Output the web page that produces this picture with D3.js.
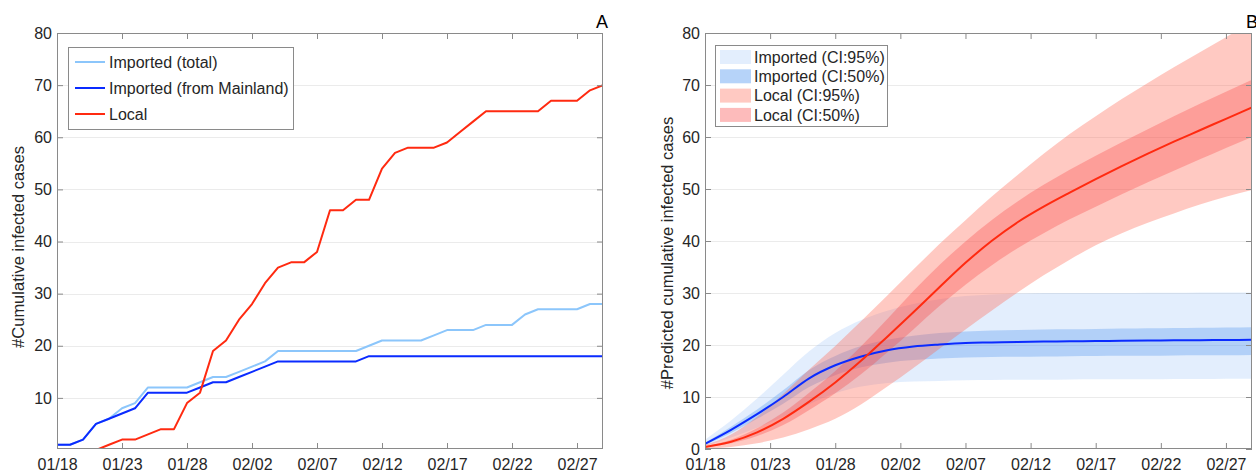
<!DOCTYPE html>
<html>
<head>
<meta charset="utf-8">
<script src="https://cdn.jsdelivr.net/npm/d3@7"></script>
<style>
  html, body { margin: 0; padding: 0; background: #fff; }
  svg { display: block; font-family: "Liberation Sans", Arial, Helvetica, sans-serif; }
</style>
</head>
<body>
<svg id="chart" width="1256" height="472"></svg>
<script>
// ---- Observed data (panel A): cumulative cases per day from 01/18 ----
const startDate = new Date(2020, 0, 18);
const endDate = new Date(2020, 1, 29);
const importedTotal = [1,1,2,5,6,8,9,12,12,12,12,13,14,14,15,16,17,19,19,19,19,19,19,19,20,21,21,21,21,22,23,23,23,24,24,24,26,27,27,27,27,28,28];
const importedMainland = [1,1,2,5,6,7,8,11,11,11,11,12,13,13,14,15,16,17,17,17,17,17,17,17,18,18,18,18,18,18,18,18,18,18,18,18,18,18,18,18,18,18,18];
const local = [null,null,null,0,1,2,2,3,4,4,9,11,19,21,25,28,32,35,36,36,38,46,46,48,48,54,57,58,58,58,59,61,63,65,65,65,65,65,67,67,67,69,70];

// ---- Model predictions (panel B), sampled every other day ----
const predDays = [0,2,4,6,8,10,12,14,16,18,20,22,24,26,28,30,32,34,36,38,40,42];
const impMedian = [1.0,3.7,6.7,10.0,13.6,16.1,17.8,19.0,19.7,20.1,20.4,20.5,20.6,20.65,20.7,20.75,20.8,20.85,20.9,20.93,20.96,21.0];
const imp95Lo   = [0.5,2.2,4.1,6.2,8.6,10.7,12.0,12.7,13.0,13.1,13.2,13.25,13.3,13.3,13.35,13.4,13.4,13.4,13.45,13.45,13.5,13.5];
const imp95Hi   = [1.8,5.5,9.7,14.3,18.8,22.3,24.8,26.6,27.9,28.8,29.4,29.7,29.9,30.0,30.0,30.0,30.0,30.05,30.05,30.1,30.1,30.1];
const imp50Lo   = [0.8,3.1,5.8,8.7,11.9,14.2,15.7,16.6,17.1,17.4,17.6,17.7,17.75,17.8,17.85,17.9,17.92,17.95,18.0,18.02,18.05,18.1];
const imp50Hi   = [1.2,4.3,7.6,11.3,15.2,17.9,19.8,21.0,21.8,22.3,22.6,22.8,22.9,23.0,23.05,23.1,23.15,23.2,23.25,23.3,23.35,23.4];
const locMedian = [0.4,1.4,3.2,5.8,9.1,12.8,17.0,21.6,26.3,31.1,35.8,40.0,43.6,46.6,49.3,51.9,54.4,56.8,59.1,61.3,63.5,65.7];
const loc95Lo   = [0.1,0.4,1.1,2.2,3.8,5.8,8.6,12.0,15.6,19.3,23.0,26.6,30.1,33.4,36.4,39.2,41.5,43.5,45.3,47.0,48.5,49.8];
const loc95Hi   = [0.8,2.8,6.2,10.6,15.3,19.8,24.6,29.5,34.5,39.4,44.0,48.5,52.7,56.8,60.6,64.0,67.3,70.4,73.4,76.3,79.2,82.0];
const loc50Lo   = [0.3,1.1,2.5,4.6,7.5,10.7,14.4,18.6,23.0,27.5,31.6,35.3,38.6,41.5,44.2,46.6,49.0,51.3,53.5,55.7,57.9,60.0];
const loc50Hi   = [0.5,1.8,4.0,7.0,10.8,15.0,19.8,25.0,30.4,35.4,39.9,44.0,47.6,50.8,53.7,56.4,59.0,61.5,64.0,66.4,68.7,71.0];

// ---- Axis labels ----
const xTickLabels = ["01/18","01/23","01/28","02/02","02/07","02/12","02/17","02/22","02/27"];
const yTicksA = [10,20,30,40,50,60,70,80];
const yTicksB = [0,10,20,30,40,50,60,70,80];
const legendA = ["Imported (total)", "Imported (from Mainland)", "Local"];
const legendB = ["Imported (CI:95%)", "Imported (CI:50%)", "Local (CI:95%)", "Local (CI:50%)"];

const C = {
  impTotal: "#8cc6fb",
  impMain: "#0a2bff",
  local: "#ff2a10",
  axis: "#8a8a8a",
  grid: "#ebebeb",
  text: "#262626"
};
const FS = 16;

const svg = d3.select("#chart");
const dayToDate = d => d3.timeDay.offset(startDate, d);
const parseTick = s => { const [m, dd] = s.split("/").map(Number); return new Date(2020, m - 1, dd); };
const tickDates = xTickLabels.map(parseTick);
const fmt = d3.timeFormat("%m/%d");

function grid(g, y, yTicks, box) {
  g.append("g").selectAll("line").data(yTicks.filter(v => v > 0 && v < 80)).join("line")
    .attr("x1", box.l).attr("x2", box.r)
    .attr("y1", d => Math.round(y(d)) + 0.5).attr("y2", d => Math.round(y(d)) + 0.5)
    .attr("stroke", C.grid).attr("stroke-width", 1);
}

function axes(g, x, y, yTicks, box) {
  const {l, r, t, b} = box;
  const tl = 6;
  const style = sel => {
    sel.select(".domain").remove();
    sel.selectAll(".tick line").attr("stroke", C.axis);
    sel.selectAll(".tick text").attr("fill", C.text).attr("font-size", FS);
  };
  g.append("g").attr("transform", `translate(0,${b})`)
    .call(d3.axisBottom(x).tickValues(tickDates).tickFormat(fmt).tickSizeInner(-tl).tickSizeOuter(0).tickPadding(10))
    .call(style);
  g.append("g").attr("transform", `translate(0,${t})`)
    .call(d3.axisTop(x).tickValues(tickDates).tickFormat("").tickSizeInner(-tl).tickSizeOuter(0))
    .call(style);
  g.append("g").attr("transform", `translate(${l},0)`)
    .call(d3.axisLeft(y).tickValues(yTicks).tickSizeInner(-tl).tickSizeOuter(0).tickPadding(5))
    .call(style);
  g.append("g").attr("transform", `translate(${r},0)`)
    .call(d3.axisRight(y).tickValues(yTicks).tickFormat("").tickSizeInner(-tl).tickSizeOuter(0))
    .call(style);
  g.append("rect").attr("x", l + 0.5).attr("y", t + 0.5)
    .attr("width", r - l - 1).attr("height", b - t - 1)
    .attr("fill", "none").attr("stroke", C.axis).attr("stroke-width", 1);
}

// ================= Panel A =================
const boxA = {l: 57, r: 603, t: 33, b: 449};
const xA = d3.scaleTime().domain([startDate, endDate]).range([boxA.l, boxA.r]);
const yA = d3.scaleLinear().domain([0, 80]).range([boxA.b + 1, boxA.t]);
const gA = svg.append("g");
grid(gA, yA, yTicksA, boxA);

gA.append("clipPath").attr("id", "clipA").append("rect")
  .attr("x", boxA.l).attr("y", boxA.t).attr("width", boxA.r - boxA.l).attr("height", boxA.b - boxA.t);

const lineA = d3.line()
  .defined(d => d != null)
  .x((d, i) => xA(dayToDate(i)))
  .y(d => yA(d));

const seriesA = [
  {name: legendA[0], values: importedTotal, color: C.impTotal},
  {name: legendA[1], values: importedMainland, color: C.impMain},
  {name: legendA[2], values: local, color: C.local}
];
gA.append("g").attr("clip-path", "url(#clipA)")
  .selectAll("path").data(seriesA).join("path")
  .attr("d", s => lineA(s.values))
  .attr("fill", "none").attr("stroke", s => s.color)
  .attr("stroke-width", 2).attr("stroke-linejoin", "round");

axes(gA, xA, yA, yTicksA, boxA);

gA.append("text").attr("transform", "translate(24,247) rotate(-90)")
  .attr("text-anchor", "middle").attr("fill", C.text).attr("font-size", 16.5)
  .text("#Cumulative infected cases");
gA.append("text").attr("x", 596).attr("y", 28).attr("fill", "#000").attr("font-size", 18).text("A");

// legend A
const legA = gA.append("g");
legA.append("rect").attr("x", 68.5).attr("y", 47.5).attr("width", 225).attr("height", 82)
  .attr("fill", "#fff").attr("stroke", C.axis);
seriesA.forEach((s, i) => {
  const yy = 62 + i * 26;
  legA.append("line").attr("x1", 75).attr("x2", 105).attr("y1", yy).attr("y2", yy)
    .attr("stroke", s.color).attr("stroke-width", 2);
  legA.append("text").attr("x", 109).attr("y", yy).attr("dy", "0.35em")
    .attr("fill", C.text).attr("font-size", FS).text(s.name);
});

// ================= Panel B =================
const boxB = {l: 705, r: 1252, t: 33, b: 449};
const xB = d3.scaleTime().domain([startDate, endDate]).range([boxB.l, boxB.r]);
const yB = d3.scaleLinear().domain([0, 80]).range([boxB.b, boxB.t]);
const gB = svg.append("g");
grid(gB, yB, yTicksB, boxB);

gB.append("clipPath").attr("id", "clipB").append("rect")
  .attr("x", boxB.l).attr("y", boxB.t).attr("width", boxB.r - boxB.l).attr("height", boxB.b - boxB.t);

const rows = (lo, hi) => predDays.map((d, i) => ({d, lo: lo[i], hi: hi[i]}));
const band = d3.area()
  .x(p => xB(dayToDate(p.d)))
  .y0(p => yB(p.lo)).y1(p => yB(p.hi))
  .curve(d3.curveMonotoneX);
const medLine = d3.line()
  .x((v, i) => xB(dayToDate(predDays[i])))
  .y(v => yB(v))
  .curve(d3.curveMonotoneX);

const bands = [
  {name: legendB[0], data: rows(imp95Lo, imp95Hi), fill: "rgb(80,150,240)", op: 0.16},
  {name: legendB[1], data: rows(imp50Lo, imp50Hi), fill: "rgb(80,150,240)", op: 0.33},
  {name: legendB[2], data: rows(loc95Lo, loc95Hi), fill: "rgb(255,100,80)", op: 0.35},
  {name: legendB[3], data: rows(loc50Lo, loc50Hi), fill: "rgb(250,60,60)", op: 0.3}
];
const plotB = gB.append("g").attr("clip-path", "url(#clipB)");
plotB.selectAll("path.band").data(bands).join("path").attr("class", "band")
  .attr("d", b => band(b.data))
  .attr("fill", b => b.fill).attr("fill-opacity", b => b.op);
plotB.append("path").attr("d", medLine(impMedian))
  .attr("fill", "none").attr("stroke", C.impMain).attr("stroke-width", 2);
plotB.append("path").attr("d", medLine(locMedian))
  .attr("fill", "none").attr("stroke", C.local).attr("stroke-width", 2);

axes(gB, xB, yB, yTicksB, boxB);

gB.append("text").attr("transform", "translate(673,253) rotate(-90)")
  .attr("text-anchor", "middle").attr("fill", C.text).attr("font-size", 16.5)
  .text("#Predicted cumulative infected cases");
gB.append("text").attr("x", 1246).attr("y", 28).attr("fill", "#000").attr("font-size", 18).text("B");

// legend B
const legB = gB.append("g");
legB.append("rect").attr("x", 715.5).attr("y", 45.5).attr("width", 172).attr("height", 81)
  .attr("fill", "#fff").attr("stroke", C.axis);
bands.forEach((b, i) => {
  const yy = 57 + i * 19.3;
  legB.append("rect").attr("x", 720).attr("y", yy - 7).attr("width", 31).attr("height", 14)
    .attr("fill", b.fill).attr("fill-opacity", i === 1 ? 0.42 : b.op + (i === 3 ? 0.05 : 0));
  legB.append("text").attr("x", 754).attr("y", yy).attr("dy", "0.35em")
    .attr("fill", C.text).attr("font-size", FS).text(b.name);
});
</script>
</body>
</html>
